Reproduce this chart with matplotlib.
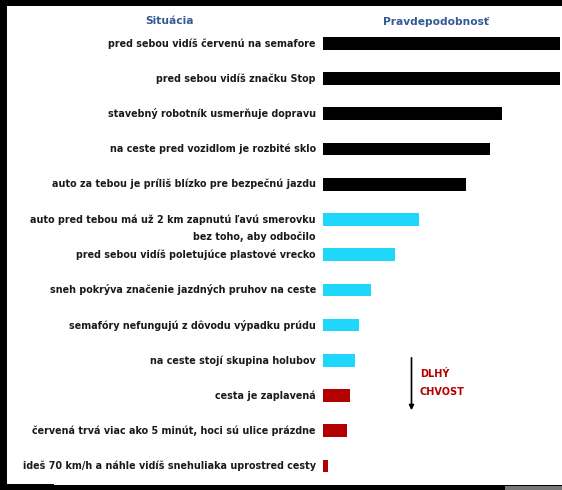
import numpy as np
import matplotlib
matplotlib.use('Agg')
import matplotlib.pyplot as plt
from matplotlib.patches import Rectangle, FancyArrowPatch

# situacie a odhadnute pravdepodobnosti (relativne, 100 = najdlhsi pruh)
situacie = [
    "pred sebou vidíš červenú na semafore",
    "pred sebou vidíš značku Stop",
    "stavebný robotník usmerňuje dopravu",
    "na ceste pred vozidlom je rozbité sklo",
    "auto za tebou je príliš blízko pre bezpečnú jazdu",
    "auto pred tebou má už 2 km zapnutú ľavú smerovku\nbez toho, aby odbočilo",
    "pred sebou vidíš poletujúce plastové vrecko",
    "sneh pokrýva značenie jazdných pruhov na ceste",
    "semafóry nefungujú z dôvodu výpadku prúdu",
    "na ceste stojí skupina holubov",
    "cesta je zaplavená",
    "červená trvá viac ako 5 minút, hoci sú ulice prázdne",
    "ideš 70 km/h a náhle vidíš snehuliaka uprostred cesty",
]
pravdepodobnost = [100, 100, 75.5, 70.5, 60.5, 40.5, 30.5, 20.5, 15.5, 13.5, 11.5, 10.3, 2.5]
skupina = ["bezne"] * 5 + ["zriedkave"] * 5 + ["chvost"] * 3
farby = {"bezne": "#000000", "zriedkave": "#1fd6fb", "chvost": "#b30000"}

W, H = 562, 490
fig = plt.figure(figsize=(W / 100, H / 100), dpi=100, facecolor='black')

# biela plocha screenshotu s ciernym okrajom
fig.patches.append(Rectangle((7 / W, 1 - 485 / H), 1 - 7 / W, (485 - 6) / H,
                             transform=fig.transFigure, facecolor='white',
                             edgecolor='none', zorder=-10))
fig.patches.append(Rectangle((0, 0), 54 / W, 1 - 484 / H, transform=fig.transFigure,
                             facecolor='black', edgecolor='none', zorder=-9))
fig.patches.append(Rectangle((505 / W, 0), 1 - 505 / W, 4 / H, transform=fig.transFigure,
                             facecolor='#777777', edgecolor='none', zorder=-9))

# os: y=0 na 43 px, y=12 na 468 px od vrchu
krok = (466 - 43.3) / 12
top_px = 43.3 - 0.5 * krok
bot_px = 466 + 0.5 * krok
ax = fig.add_axes([322.5 / W, 1 - bot_px / H, (560 - 322.5) / W, (bot_px - top_px) / H])
ax.set_facecolor('none')
ax.set_zorder(5)

y = np.arange(len(situacie))
ax.barh(y, pravdepodobnost, height=0.36, color=[farby[s] for s in skupina])
ax.set_xlim(0, 100)
ax.set_ylim(len(situacie) - 0.5, -0.5)
ax.axis('off')

for i, text in enumerate(situacie):
    for j, riadok in enumerate(text.split("\n")):
        ax.annotate(riadok, xy=(0, i), xycoords=ax.get_yaxis_transform(),
                    xytext=(-4.7, -12.7 * j), textcoords='offset points',
                    ha='right', va='center', fontsize=6.9, fontweight='bold',
                    color='#1a1a1a', annotation_clip=False)

# nadpisy stlpcov
fig.text(170 / W, 1 - 21.5 / H, "Situácia", ha='center', va='center',
         fontsize=7.7, fontweight='bold', color='#335a94')
fig.text(436 / W, 1 - 21.5 / H, "Pravdepodobnosť", ha='center', va='center',
         fontsize=7.7, fontweight='bold', color='#335a94')

# sipka dlhy chvost
fig.patches.append(FancyArrowPatch(
    (411.5 / W, 1 - 355 / H), (411.5 / W, 1 - 413 / H), transform=fig.transFigure,
    arrowstyle='-|>', mutation_scale=7, color='black', lw=1.2))
fig.text(420 / W, 1 - 374 / H, "DLHÝ", ha='left', va='center',
         fontsize=7, fontweight='bold', color='#b30000')
fig.text(420 / W, 1 - 392 / H, "CHVOST", ha='left', va='center',
         fontsize=7, fontweight='bold', color='#b30000')

fig.savefig('out.png', dpi=100, facecolor=fig.get_facecolor())
